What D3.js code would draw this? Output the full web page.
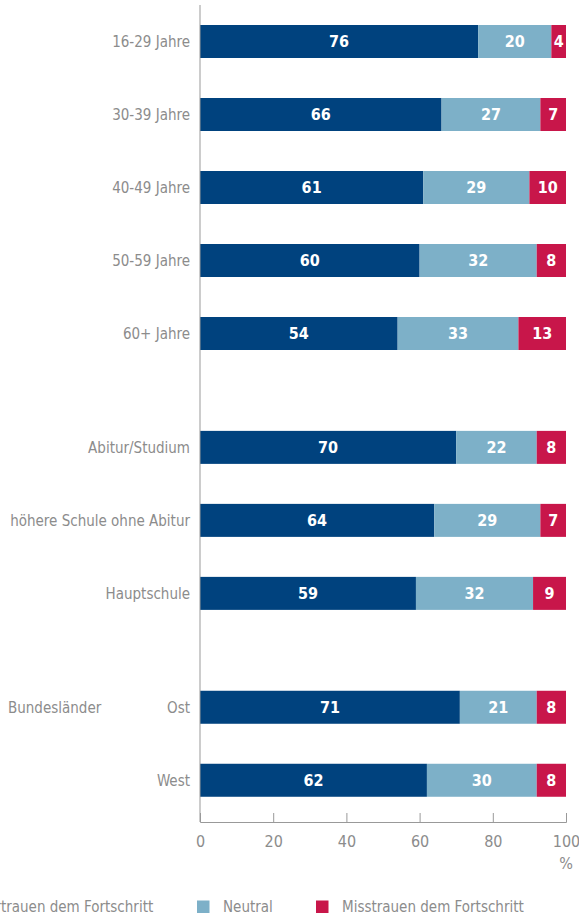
<!DOCTYPE html>
<html>
<head>
<meta charset="utf-8">
<script src="https://cdn.jsdelivr.net/npm/d3@7"></script>
<style>
  html, body { margin: 0; padding: 0; background: #fff; }
  svg { display: block; }
  text { font-family: "DejaVu Sans Condensed", "Liberation Sans Narrow", sans-serif; }
</style>
</head>
<body>
<svg id="chart" width="579" height="916"></svg>
<script>
// Survey rows (age, education, region) and the three answer shares in percent
const categories = ["16-29 Jahre", "30-39 Jahre", "40-49 Jahre", "50-59 Jahre", "60+ Jahre",
                    "Abitur/Studium", "höhere Schule ohne Abitur", "Hauptschule",
                    "Ost", "West"];
const groupOf = [0, 0, 0, 0, 0, 1, 1, 1, 2, 2];
const groupTitles = ["", "", "Bundesländer"];
const vertrauen = [76, 66, 61, 60, 54, 70, 64, 59, 71, 62];
const neutral = [20, 27, 29, 32, 33, 22, 29, 32, 21, 30];
const misstrauen = [4, 7, 10, 8, 13, 8, 7, 9, 8, 8];
const seriesNames = ["Vertrauen dem Fortschritt", "Neutral", "Misstrauen dem Fortschritt"];
const seriesColors = ["#00427e", "#7db0c8", "#c8164a"];
const xTicks = [0, 20, 40, 60, 80, 100];

const svg = d3.select("#chart");
const grey = "#8c8c8c";
const fs = 15;

const x = d3.scaleLinear().domain([0, 100]).range([200, 566]);

// rows sit on a regular pitch, with an extra gap between groups
const groupGap = 0.56;
const slot = (i) => i + groupOf[i] * groupGap;
const lastSlot = slot(categories.length - 1);
const y = d3.scaleLinear().domain([0, lastSlot]).range([41.5, 41.5 + lastSlot * 73]);
const barH = 33;

const rows = categories.map((c, i) => ({ cat: c, i, vals: [vertrauen[i], neutral[i], misstrauen[i]] }));
const stack = d3.stack().keys([0, 1, 2]).value((d, k) => d.vals[k]);
const layers = stack(rows);

const gBars = svg.append("g");
layers.forEach((layer, k) => {
  const g = gBars.append("g");
  g.selectAll("rect").data(layer).join("rect")
    .attr("x", d => x(d[0]))
    .attr("width", d => x(d[1]) - x(d[0]))
    .attr("y", d => y(slot(d.data.i)) - barH / 2)
    .attr("height", barH)
    .attr("fill", seriesColors[k]);
  g.selectAll("text").data(layer).join("text")
    .attr("x", d => (x(d[0]) + x(d[1])) / 2)
    .attr("y", d => y(slot(d.data.i)))
    .attr("dy", "0.36em")
    .attr("text-anchor", "middle")
    .attr("fill", "#fff")
    .attr("font-weight", "bold")
    .attr("font-size", 16)
    .text(d => d.data.vals[k]);
});

// category labels
svg.append("g").selectAll("text").data(rows).join("text")
  .attr("x", 190)
  .attr("y", d => y(slot(d.i)))
  .attr("dy", "0.36em")
  .attr("text-anchor", "end")
  .attr("fill", grey)
  .attr("font-size", fs)
  .text(d => d.cat);

// group titles
groupTitles.forEach((t, gi) => {
  if (!t) return;
  const first = groupOf.indexOf(gi);
  svg.append("text")
    .attr("x", 8)
    .attr("y", y(slot(first)))
    .attr("dy", "0.36em")
    .attr("fill", grey)
    .attr("font-size", fs)
    .text(t);
});

// vertical baseline
svg.append("line")
  .attr("x1", x(0)).attr("x2", x(0))
  .attr("y1", 5).attr("y2", 822)
  .attr("stroke", "#999").attr("stroke-width", 1);

// x axis
const axis = d3.axisBottom(x).tickValues(xTicks).tickSize(-9).tickPadding(0);
const gAxis = svg.append("g").attr("transform", "translate(0,822)").call(axis);
gAxis.select(".domain").attr("stroke", "#999");
gAxis.selectAll(".tick line").attr("stroke", "#999");
gAxis.selectAll(".tick text")
  .attr("y", 19).attr("dy", "0.36em")
  .attr("fill", grey).attr("font-size", 16)
  .attr("font-family", "DejaVu Sans Condensed, sans-serif");
svg.append("text")
  .attr("x", x(100)).attr("y", 863).attr("dy", "0.36em")
  .attr("text-anchor", "middle")
  .attr("fill", grey).attr("font-size", 16)
  .text("%");

// legend
const legendX = [-47, 197, 316];
const gLeg = svg.append("g");
seriesNames.forEach((name, k) => {
  gLeg.append("rect")
    .attr("x", legendX[k]).attr("y", 900.5)
    .attr("width", 12.5).attr("height", 12.5)
    .attr("fill", seriesColors[k]);
  gLeg.append("text")
    .attr("x", legendX[k] + 26).attr("y", 907)
    .attr("dy", "0.36em")
    .attr("fill", grey).attr("font-size", fs)
    .text(name);
});
</script>
</body>
</html>
